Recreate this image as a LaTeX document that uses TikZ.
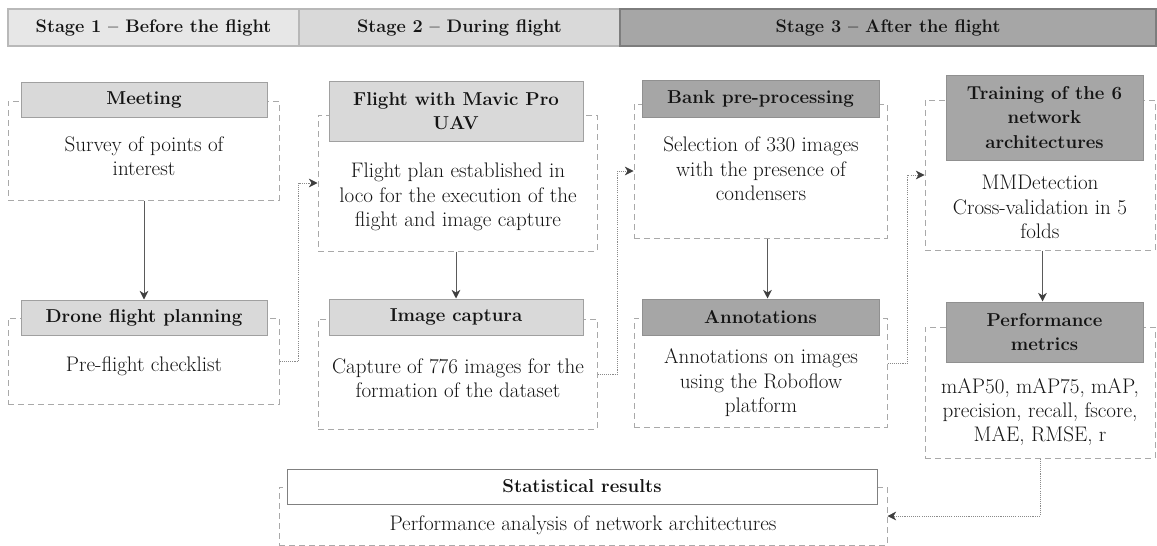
\documentclass[tikz,border=0pt]{standalone}
\usepackage{fontspec}
\usetikzlibrary{fit,arrows.meta,calc}

\definecolor{stageA}{HTML}{E7E7E7}
\definecolor{stageB}{HTML}{D9D9D9}
\definecolor{stageC}{HTML}{A6A6A6}
\definecolor{hdrlight}{HTML}{D9D9D9}
\definecolor{hdrdark}{HTML}{A6A6A6}
\definecolor{edgec}{HTML}{A0A0A0}
\definecolor{dashc}{HTML}{A9A9A9}
\definecolor{ink}{HTML}{141414}
\definecolor{arrowc}{HTML}{5A5A5A}
\definecolor{linkc}{HTML}{8A8A8A}

\begin{document}
\begin{tikzpicture}[x=0.75pt,y=-0.75pt,
  bodyfont/.style={font=\fontsize{15.8}{18.3}\selectfont, text=ink},
  boldfont/.style={font=\fontsize{14}{18.3}\selectfont\bfseries, text=ink},
  stagecell/.style={rectangle, inner sep=0pt, line width=0.8pt},
  dbox/.style={rectangle, inner sep=0pt, draw=dashc, line width=0.75pt, dash pattern=on 4.5pt off 3pt},
  hdrL/.style={rectangle, inner sep=0pt, fill=hdrlight, draw=edgec, line width=0.75pt},
  hdrD/.style={hdrL, fill=hdrdark, draw=edgec!90!black},
  hdrW/.style={hdrL, fill=white, draw=gray},
  hlabel/.style={align=center, inner sep=0pt, boldfont},
  body/.style={align=center, inner sep=0pt, bodyfont},
  flow/.style={draw=arrowc, line width=0.75pt, -{Stealth[length=6.5pt,width=6.5pt,inset=2pt,color=arrowc!70!black]}},
  link/.style={draw=linkc, line width=0.6pt, dash pattern=on 0.8pt off 0.8pt, -{Stealth[length=6.5pt,width=6.5pt,inset=2pt,color=arrowc!70!black]}}
]
\useasboundingbox (0,0) rectangle (1157,546);

% stage banner
\node[stagecell, fill=stageA, draw=stageA!80!black, fit={(8,9) (299,46)}] (s1) {};
\node[stagecell, fill=stageB, draw=stageB!85!black, fit={(299,9) (620,46)}] (s2) {};
\node[stagecell, fill=stageC, draw=stageC!75!black, fit={(620,9) (1156,46)}] (s3) {};
\node[hlabel, font=\fontsize{13.6}{18}\selectfont\bfseries] (s1lbl) at (s1.center) {Stage 1 -- Before the flight};
\node[hlabel, font=\fontsize{13.6}{18}\selectfont\bfseries] (s2lbl) at (s2.center) {Stage 2 -- During flight};
\node[hlabel, font=\fontsize{13.6}{18}\selectfont\bfseries] (s3lbl) at (s3.center) {Stage 3 -- After the flight};

% stage 1
\node[dbox, fit={(8,101) (279,200)}] (meetbox) {};
\node[hdrL, fit={(21,82) (267,117)}] (meet) {};
\node[hlabel] (meetlbl) at (meet.center) {Meeting};
\node[body] (meettxt) at (144,156) {Survey of points of\\interest};

\node[dbox, fit={(8,318) (279,404)}] (planbox) {};
\node[hdrL, fit={(21,300) (267,335)}] (plan) {};
\node[hlabel] (planlbl) at (plan.center) {Drone flight planning};
\node[body] (plantxt) at (144,366) {Pre-flight checklist};

% stage 2
\node[dbox, fit={(318,115) (597,251)}] (flightbox) {};
\node[hdrL, fit={(329,81) (583,141)}] (flight) {};
\node[hlabel] (flightlbl) at (flight.center) {Flight with Mavic Pro\\UAV};
\node[body] (flighttxt) at (458,197) {Flight plan established in\\loco for the execution of the\\flight and image capture};

\node[dbox, fit={(318,319) (597,429)}] (captbox) {};
\node[hdrL, fit={(329,299) (583,335)}] (capt) {};
\node[hlabel] (captlbl) at (capt.center) {Image captura};
\node[body] (capttxt) at (458,378) {Capture of 776 images for the\\formation of the dataset};

% stage 3
\node[dbox, fit={(634,104) (887,238)}] (bankbox) {};
\node[hdrD, fit={(642,80) (879,117)}] (bank) {};
\node[hlabel] (banklbl) at (bank.center) {Bank pre-processing};
\node[body] (banktxt) at (761,169) {Selection of 330 images\\with the presence of\\condensers};

\node[dbox, fit={(634,318) (887,427)}] (annotbox) {};
\node[hdrD, fit={(642,299) (879,335)}] (annot) {};
\node[hlabel] (annotlbl) at (annot.center) {Annotations};
\node[body] (annottxt) at (761,383) {Annotations on images\\using the Roboflow\\platform};

\node[dbox, fit={(925,100) (1155,250)}] (trainbox) {};
\node[hdrD, fit={(946,75) (1143,160)}] (train) {};
\node[hlabel] (trainlbl) at (train.center) {Training of the 6\\network\\architectures};
\node[body] (traintxt) at (1040,207) {MMDetection\\Cross-validation in 5\\folds};

\node[dbox, fit={(925,327) (1155,458)}] (perfbox) {};
\node[hdrD, fit={(946,302) (1143,362)}] (perf) {};
\node[hlabel] (perflbl) at (perf.center) {Performance\\metrics};
\node[body] (perftxt) at (1040,412) {mAP50, mAP75, mAP,\\precision, recall, fscore,\\MAE, RMSE, r};

\node[dbox, fit={(279,487) (887,545)}] (statbox) {};
\node[hdrW, fit={(287,469) (877,504)}] (stat) {};
\node[hlabel] (statlbl) at (stat.center) {Statistical results};
\node[body] (stattxt) at (583,525) {Performance analysis of network architectures};

% vertical steps inside each stage
\draw[flow] (meetbox.south -| plan.north) -- (plan.north);
\draw[flow] (flightbox.south -| capt.north) -- (capt.north);
\draw[flow] ($(bankbox.south)+(7,0)$) -- ($(annot.north)+(7,0)$);
\draw[flow] ($(trainbox.south -| perf.north)+(-2,0)$) -- ($(perf.north)+(-2,0)$);

% hand-over between columns
\draw[link] (planbox.east) -- ++(19,0) |- (flightbox.west);
\draw[link] (captbox.east) -- ++(20,0) |- (bankbox.west);
\draw[link] ([yshift=7pt]annotbox.east) -- ++(20,0) |- (trainbox.west);
\draw[link] (perfbox.south) |- (statbox.east);
\end{tikzpicture}
\end{document}
